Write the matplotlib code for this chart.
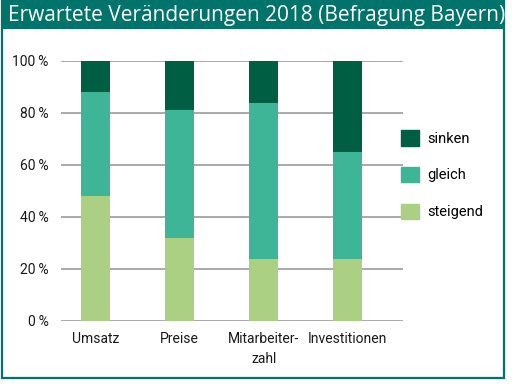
import matplotlib
matplotlib.use('Agg')
import matplotlib.pyplot as plt
from matplotlib.patches import Rectangle, Patch
import numpy as np

categories = ['Umsatz', 'Preise', 'Mitarbeiter-\nzahl', 'Investitionen']
steigend = [48, 32, 24, 24]
gleich = [40, 49, 60, 41]
sinken = [12, 19, 16, 35]
yticks = [0, 20, 40, 60, 80, 100]

c_dark = '#005e42'
c_mid = '#3eb596'
c_light = '#acd083'
c_head = '#00736a'

plt.rcParams['font.family'] = ['Roboto', 'DejaVu Sans']

fig = plt.figure(figsize=(5.12, 3.84), dpi=100)
W, H = 512, 384

# frame + header
fig.patches.append(Rectangle((2 / W, 6 / H), 502 / W, 377 / H, transform=fig.transFigure,
                             facecolor='white', edgecolor=c_head, linewidth=1.6, zorder=0))
fig.patches.append(Rectangle((1 / W, (H - 29) / H), 504 / W, 29 / H, transform=fig.transFigure,
                             facecolor=c_head, edgecolor='none', zorder=1))
fig.text(8 / W, (H - 15) / H, 'Erwartete Veränderungen 2018 (Befragung Bayern)',
         color='white', fontsize=15, va='center', ha='left', family=['Open Sans', 'DejaVu Sans'])

ax = fig.add_axes([61 / W, 63 / H, 342 / W, 260 / H])
ax.set_zorder(3)
x = np.arange(len(categories))
bw = 0.345
ax.bar(x, steigend, bw, color=c_light, zorder=3, label='steigend')
ax.bar(x, gleich, bw, bottom=steigend, color=c_mid, zorder=3, label='gleich')
ax.bar(x, sinken, bw, bottom=np.array(steigend) + np.array(gleich), color=c_dark, zorder=3, label='sinken')

ax.set_xlim(-0.41, 3.655)
ax.set_ylim(0, 100)
ax.set_yticks(yticks)
ax.set_yticklabels([f'{v}\u2009%' for v in yticks])
ax.set_xticks(x)
ax.set_xticklabels(categories, linespacing=1.55)
ax.grid(axis='y', color='#a3a3a3', linewidth=1.3, zorder=0)
for s in ax.spines.values():
    s.set_visible(False)
ax.tick_params(axis='both', length=0, labelsize=10, colors='#1a1a1a')
ax.tick_params(axis='y', pad=9)
ax.tick_params(axis='x', pad=8)
ax.patch.set_alpha(0)

handles = [Patch(color=c_dark), Patch(color=c_mid), Patch(color=c_light)]
leg = fig.legend(handles, ['sinken', 'gleich', 'steigend'], loc='upper left',
                 bbox_to_anchor=(388 / W, (H - 117) / H), frameon=False, fontsize=10.5,
                 handlelength=1.25, handleheight=1.25, labelspacing=1.45, handletextpad=0.55)
leg.set_zorder(4)

plt.savefig('out.png', dpi=100)
